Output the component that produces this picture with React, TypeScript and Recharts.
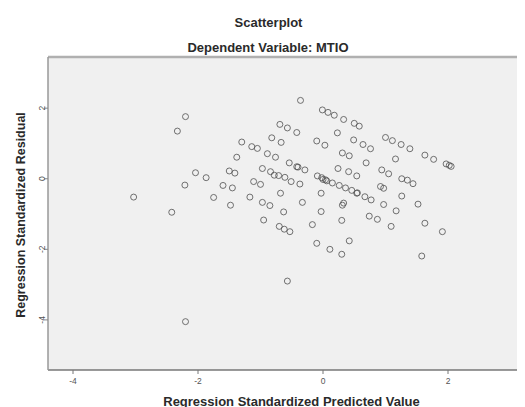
import React from "react";
import {
  ScatterChart,
  Scatter,
  XAxis,
  YAxis,
  CartesianGrid,
  ReferenceLine,
} from "recharts";

// Regression standardized predicted values (x) and residuals (y), one entry per case
const predicted: number[] = [
  -3.03, -2.42, -2.33, -2.2, -2.21, -2.04, -1.87, -1.75, -1.6, -1.45,
  -1.48, -1.5, -1.41, -1.38, -1.3, -1.14, -1.05, -1.11, -1.0, -1.17,
  -0.97, -0.85, -0.95, -0.97, -0.84, -0.71, -0.61, -0.89, -0.76, -0.82,
  -0.69, -0.57, -0.42, -0.67, -0.54, -0.42, -0.29, -0.51, -0.37, -0.68,
  -0.63, -0.33, -0.7, -0.62, -0.53, -0.57, -2.2, -0.36, -0.01, 0.08,
  0.18, 0.33, 0.5, 0.58, -0.1, 0.03, 0.23, 0.49, 0.64, 0.76,
  1.0, 1.11, 1.25, 1.39, 1.16, 1.63, 1.77, 1.97, 2.05, 2.02,
  0.31, 0.42, 0.69, 0.24, 0.41, 0.54, 0.94, 1.05, -0.09, -0.02,
  0.04, 0.15, 0.26, 0.36, 0.46, 0.54, 0.92, 0.97, 1.26, 1.35,
  1.44, -0.03, 0.67, 0.77, 0.31, 0.33, 0.97, 1.26, 1.52, 1.17,
  -0.03, 0.74, 0.87, 0.3, -0.17, 1.09, 1.63, 1.91, -0.1, 0.11,
  0.42, 0.3, 1.58, -0.4, 0.06, 0.55, 0.0, -0.78,
];

const residual: number[] = [
  -0.52, -0.95, 1.35, 1.76, -0.18, 0.17, 0.03, -0.53, -0.19, -0.26,
  -0.75, 0.22, 0.16, 0.61, 1.04, 0.91, 0.86, -0.08, -0.16, -0.52,
  -0.67, -0.76, -1.17, 0.29, 0.2, 0.09, 0.04, 0.71, 0.61, 1.16,
  1.54, 1.44, 1.31, 1.03, 0.45, 0.34, 0.25, -0.08, -0.15, -0.41,
  -0.94, -0.67, -1.35, -1.43, -1.5, -2.9, -4.05, 2.22, 1.95, 1.88,
  1.8, 1.68, 1.57, 1.49, 1.07, 0.95, 1.3, 1.1, 0.97, 0.85,
  1.17, 1.08, 0.97, 0.85, 0.56, 0.67, 0.55, 0.42, 0.35, 0.38,
  0.73, 0.65, 0.45, 0.29, 0.2, 0.08, 0.25, 0.14, 0.08, 0.03,
  -0.03, -0.12, -0.19, -0.26, -0.33, -0.41, -0.22, -0.27, 0.0, -0.04,
  -0.14, -0.41, -0.51, -0.6, -0.75, -0.69, -0.73, -0.49, -0.72, -0.91,
  -0.93, -1.06, -1.15, -1.18, -1.3, -1.35, -1.26, -1.5, -1.83, -2.0,
  -1.76, -2.14, -2.19, 0.33, -0.06, -0.4, -0.02, 0.1,
];

const xTicks = [-4, -2, 0, 2];
const yTicks = [2, 0, -2, -4];
const xDomain: [number, number] = [-4.4, 3.2];
const yDomain: [number, number] = [-5.42, 3.45];

const points = predicted.map((x, i) => ({ x, y: residual[i] }));

const FONT = "'Liberation Sans', Arial, Helvetica, sans-serif";

const OpenCircle = (props: any) => {
  const { cx, cy } = props;
  if (cx == null || cy == null) return null;
  return (
    <circle
      cx={cx}
      cy={cy}
      r={3}
      fill="none"
      stroke="#505050"
      strokeWidth={1}
      strokeOpacity={0.8}
    />
  );
};

const YTick = (props: any) => {
  const { x, y, payload } = props;
  return (
    <text
      x={x}
      y={y}
      transform={`rotate(-90 ${x} ${y})`}
      textAnchor="middle"
      dominantBaseline="central"
      fontSize={8.5}
      fill="#555"
      fontFamily={FONT}
    >
      {payload.value}
    </text>
  );
};

const XTick = (props: any) => {
  const { x, y, payload } = props;
  return (
    <text
      x={x}
      y={y + 5}
      textAnchor="middle"
      dominantBaseline="central"
      fontSize={8.5}
      fill="#555"
      fontFamily={FONT}
    >
      {payload.value}
    </text>
  );
};

export default function App() {
  return (
    <div style={{ width: 517, height: 399, position: "relative" }}>
      <ScatterChart
        width={517}
        height={399}
        margin={{ top: 49, right: 2, left: 20, bottom: 0 }}
      >
        <CartesianGrid
          fill="#f0f0f0"
          horizontal={false}
          vertical={false}
          stroke="none"
        />
        <XAxis
          type="number"
          dataKey="x"
          domain={xDomain}
          ticks={xTicks}
          allowDataOverflow
          height={37}
          axisLine={{ stroke: "#777", strokeWidth: 1.5 }}
          tickLine={{ stroke: "#777" }}
          tickSize={4}
          tick={<XTick />}
        />
        <YAxis
          type="number"
          dataKey="y"
          domain={yDomain}
          ticks={yTicks}
          allowDataOverflow
          width={20}
          axisLine={{ stroke: "#999", strokeWidth: 1.5 }}
          tickLine={{ stroke: "#888" }}
          tickSize={4}
          tick={<YTick />}
        />
        <ReferenceLine y={yDomain[1]} stroke="#b0b0b0" strokeWidth={2.5} />
        <ReferenceLine x={xDomain[1]} stroke="#b0b0b0" strokeWidth={1.5} />
        <Scatter
          data={points}
          shape={<OpenCircle />}
          isAnimationActive={false}
        />
        <text
          x={260.5}
          y={14}
          textAnchor="middle"
          dominantBaseline="central"
          fontSize={13}
          fontWeight="bold"
          fill="#2a2a2a"
          fontFamily={FONT}
        >
          Scatterplot
        </text>
        <text
          x={260}
          y={39}
          textAnchor="middle"
          dominantBaseline="central"
          fontSize={13}
          fontWeight="bold"
          fill="#2a2a2a"
          fontFamily={FONT}
        >
          Dependent Variable: MTIO
        </text>
        <text
          x={283.5}
          y={393}
          textAnchor="middle"
          dominantBaseline="central"
          fontSize={13}
          fontWeight="bold"
          fill="#2a2a2a"
          fontFamily={FONT}
        >
          Regression Standardized Predicted Value
        </text>
        <text
          x={13}
          y={207}
          transform="rotate(-90 13 207)"
          textAnchor="middle"
          dominantBaseline="central"
          fontSize={12.5}
          fontWeight="bold"
          fill="#2a2a2a"
          fontFamily={FONT}
        >
          Regression Standardized Residual
        </text>
      </ScatterChart>
    </div>
  );
}
